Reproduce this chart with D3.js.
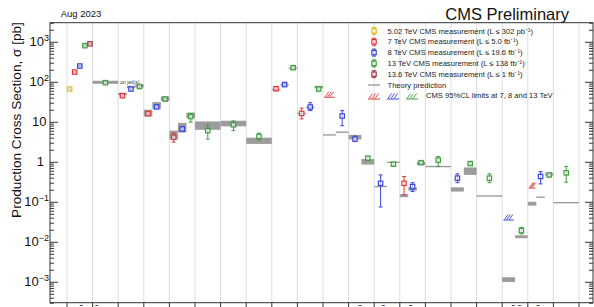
<!DOCTYPE html>
<html><head><meta charset="utf-8">
<script src="https://cdn.jsdelivr.net/npm/d3@7"></script>
<style>
body{margin:0;background:#fff;}
svg{display:block;font-family:"Liberation Sans",Arial,Helvetica,sans-serif;}
</style>
</head><body>
<svg id="c" width="594" height="307"></svg>
<script>
// ---------------- data ----------------
const categories = ["tt\u0304","tt\u0304 jets","WW","WZ","ZZ","W\u03b3\u03b3","Z\u03b3\u03b3","WV\u03b3","t-ch","tW","s-ch",
  "tt\u0304\u03b3","tt\u0304W","tt\u0304Z","tZq","t\u03b3q","tWZ","tt\u0304tt\u0304","tt\u0304H","tH"];
const energies = ["5.02","7","8","13","13.6"];
const energyColors = ["#e2bd2a","#e0393b","#3a46d8","#3f9f3f","#a8394c"];
// [category, energy, value, low, high]  (pb)
const measurements = [
  ["tt\u0304","5.02",66,62,70],["tt\u0304","7",175,168,182],["tt\u0304","8",248,240,257],["tt\u0304","13",800,775,825],["tt\u0304","13.6",888,850,925],
  ["tt\u0304 jets","13",95,88,102],
  ["WW","7",45,41,49],["WW","8",66,62,70],["WW","13",76,71,82],
  ["WZ","7",16,14.5,17.5],["WZ","8",23.5,21.5,25.5],["WZ","13",37,34,40],
  ["ZZ","7",4.1,3.1,5.2],["ZZ","8",6.6,5.7,7.6],["ZZ","13",13.5,9.8,16],
  ["W\u03b3\u03b3","13",6.0,3.7,8.4],
  ["Z\u03b3\u03b3","13",8.4,6.0,10.5],
  ["WV\u03b3","13",4.3,3.5,5.2],
  ["t-ch","7",67,60,74],["t-ch","8",85,79,91],["t-ch","13",225,208,242],
  ["tW","7",16.2,11.8,22],["tW","8",23.4,19,30],["tW","13",66,62,70],
  ["s-ch","8",14,8,19],
  ["tt\u0304\u03b3","8",3.7,3.2,4.4],["tt\u0304\u03b3","13",1.23,1.1,1.35],
  ["tt\u0304W","8",0.29,0.074,0.47],["tt\u0304W","13",0.87,0.8,0.95],
  ["tt\u0304Z","7",0.29,0.15,0.43],["tt\u0304Z","8",0.24,0.18,0.30],["tt\u0304Z","13",0.95,0.88,1.02],
  ["tZq","13",1.1,0.76,1.35],
  ["t\u03b3q","8",0.39,0.3,0.5],["t\u03b3q","13",0.9,0.85,0.95],
  ["tWZ","13",0.39,0.3,0.5],
  ["tt\u0304tt\u0304","13",0.019,0.0157,0.023],
  ["tt\u0304H","8",0.43,0.28,0.57],["tt\u0304H","13",0.47,0.42,0.52],
  ["tH","13",0.53,0.31,0.76]
];
// [category, energy, low, high]  (low === high -> thin line)
const theory = [
  ["tt\u0304","5.02",64,70],["tt\u0304","7",170,180],["tt\u0304","8",240,256],["tt\u0304","13",800,850],["tt\u0304","13.6",880,940],
  ["tt\u0304 jets","13",89,106],
  ["WW","7",46,53],["WW","8",70,78],["WW","13",72,86],
  ["WZ","7",13.5,20],["WZ","8",21,31],["WZ","13",33,43],
  ["ZZ","7",3.6,6.0],["ZZ","8",5.4,9.4],["ZZ","13",12.4,17],
  ["W\u03b3\u03b3","13",6.3,10.2],
  ["Z\u03b3\u03b3","13",7.7,10.6],
  ["WV\u03b3","13",2.8,4.0],
  ["t-ch","7",64,64],["t-ch","8",84,84],["t-ch","13",217,217],
  ["tW","7",16,16],["tW","8",23,23],["tW","13",70,78],
  ["s-ch","7",4.7,4.7],["s-ch","8",5.5,5.5],
  ["tt\u0304\u03b3","8",3.6,4.7],["tt\u0304\u03b3","13",0.85,1.17],
  ["tt\u0304W","8",0.24,0.24],["tt\u0304W","13",0.97,0.97],
  ["tt\u0304Z","7",0.13,0.155],["tt\u0304Z","8",0.19,0.23],["tt\u0304Z","13",0.83,1.0],
  ["tZq","13",0.76,0.76],
  ["t\u03b3q","8",0.18,0.23],["t\u03b3q","13",0.47,0.72],
  ["tWZ","13",0.14,0.14],
  ["tt\u0304tt\u0304","8",0.00099,0.0013],["tt\u0304tt\u0304","13",0.0123,0.0145],
  ["tt\u0304H","7",0.08,0.1],["tt\u0304H","8",0.13,0.13],["tt\u0304H","13",0.45,0.52],
  ["tH","13",0.095,0.095]
];
// [category, energy, 95% CL upper limit]
const limits = [["s-ch","7",41],["tt\u0304tt\u0304","8",0.035],["tt\u0304H","7",0.22]];
const jetNote = ["tt\u0304 jets","\u2265n jet(s)"];
const yTicks = [1e-3,1e-2,1e-1,1,10,100,1000];
const legendLabels = [
  "5.02 TeV CMS measurement (L \u2264 302 pb\u207b\u00b9)",
  "7 TeV CMS measurement (L \u2264 5.0 fb\u207b\u00b9)",
  "8 TeV CMS measurement (L \u2264 19.6 fb\u207b\u00b9)",
  "13 TeV CMS measurement (L \u2264 138 fb\u207b\u00b9)",
  "13.6 TeV CMS measurement (L \u2264 1 fb\u207b\u00b9)",
  "Theory prediction",
  "CMS 95%CL limits at 7, 8 and 13 TeV"
];

// ---------------- layout ----------------
const L = 50, R = 593, T = 22.7, B = 302.7;
const svg = d3.select("#c");
const y = d3.scaleLog().domain([3e-4, 3e3]).range([B, T]);
const x = d3.scaleBand().domain(categories).range([67, 579]);
const col = e => energyColors[energies.indexOf(e)];
const THEORY = "#9c9c9c";

// sub-slot scale per category
const sub = new Map();
categories.forEach(c => {
  const s = new Set();
  measurements.forEach(m => { if (m[0] === c) s.add(m[1]); });
  theory.forEach(m => { if (m[0] === c) s.add(m[1]); });
  limits.forEach(m => { if (m[0] === c) s.add(m[1]); });
  sub.set(c, d3.scaleBand().domain(energies.filter(e => s.has(e))).range([x(c), x(c) + x.bandwidth()]));
});

// column separators
const bounds = categories.map(c => x(c)).concat([x(categories[categories.length - 1]) + x.bandwidth()]);
svg.append("g").selectAll("line").data(bounds).join("line")
  .attr("x1", d => d).attr("x2", d => d).attr("y1", T).attr("y2", B)
  .attr("stroke", "#dedede").attr("stroke-width", 1);
svg.append("g").selectAll("line").data(bounds).join("line")
  .attr("x1", d => d).attr("x2", d => d).attr("y1", B).attr("y2", B + 6)
  .attr("stroke", "#333").attr("stroke-width", 1);

// category labels (cut off by the bottom edge like the reference)
svg.append("g").selectAll("text").data(categories).join("text")
  .attr("x", d => x(d) + x.bandwidth() / 2).attr("y", B + 12)
  .attr("text-anchor", "middle").attr("font-size", 11).attr("fill", "#111")
  .text(d => d);

// theory predictions
const tg = svg.append("g");
theory.forEach(([c, e, lo, hi]) => {
  const s = sub.get(c), x0 = s(e), w = s.bandwidth();
  if (lo === hi) {
    tg.append("line").attr("x1", x0).attr("x2", x0 + w).attr("y1", y(lo)).attr("y2", y(lo))
      .attr("stroke", THEORY).attr("stroke-width", 1.4);
  } else {
    let y1 = y(hi), y2 = y(lo);
    if (y2 - y1 < 2.4) { const m = (y1 + y2) / 2; y1 = m - 1.2; y2 = m + 1.2; }
    tg.append("rect").attr("x", x0).attr("width", w).attr("y", y1).attr("height", y2 - y1)
      .attr("fill", THEORY);
  }
});

// jet note
{
  const t = theory.find(d => d[0] === jetNote[0]);
  svg.append("text").attr("x", x(jetNote[0]) + x.bandwidth() + 1.5)
    .attr("y", y(Math.sqrt(t[2] * t[3])) + 1.8)
    .attr("font-size", 5.5).attr("fill", "#333").text(jetNote[1]);
}

// limits (hatched)
function hatch(g, x0, w, yy, color) {
  g.append("line").attr("x1", x0).attr("x2", x0 + w).attr("y1", yy).attr("y2", yy)
    .attr("stroke", color).attr("stroke-width", 1);
  for (let k = 0; k < 3; k++) {
    const xs = x0 + 1 + k * (w - 3) / 3;
    g.append("line").attr("x1", xs).attr("y1", yy - 0.5).attr("x2", xs + 3.5).attr("y2", yy - 5.5)
      .attr("stroke", color).attr("stroke-width", 0.9);
  }
}
const lg = svg.append("g");
limits.forEach(([c, e, v]) => {
  const s = sub.get(c), w = s.bandwidth() * 0.8;
  hatch(lg, s(e) + (s.bandwidth() - w) / 2, w, y(v), col(e));
});

// measurements
function marker(g, cx, cy, ylo, yhi, color) {
  g.append("line").attr("x1", cx).attr("x2", cx).attr("y1", yhi).attr("y2", ylo).attr("stroke", color).attr("stroke-width", 1);
  [ylo, yhi].forEach(v => g.append("line").attr("x1", cx - 2).attr("x2", cx + 2).attr("y1", v).attr("y2", v).attr("stroke", color).attr("stroke-width", 1));
  g.append("rect").attr("x", cx - 2.2).attr("y", cy - 2.2).attr("width", 4.4).attr("height", 4.4)
    .attr("fill", "#fff").attr("fill-opacity", 0.6).attr("stroke", color).attr("stroke-width", 1.2);
}
const mg = svg.append("g");
measurements.forEach(([c, e, v, lo, hi]) => {
  const s = sub.get(c);
  marker(mg, s(e) + s.bandwidth() / 2, y(v), y(lo), y(hi), col(e));
});

// frame
svg.append("rect").attr("x", L).attr("y", T).attr("width", R - L).attr("height", B - T)
  .attr("fill", "none").attr("stroke", "#333").attr("stroke-width", 1);

// y axes (ticks inside)
const minors = [];
for (let p = -4; p <= 3; p++) for (let m = 2; m <= 9; m++) { const v = m * Math.pow(10, p); if (v >= 3e-4 && v <= 3e3) minors.push(v); }
function axisG(gen, tx, vals, size) {
  svg.append("g").attr("transform", `translate(${tx},0)`)
    .call(gen(y).tickValues(vals).tickSize(size).tickFormat(""))
    .call(g => { g.select(".domain").remove(); g.selectAll("line").attr("stroke", "#333"); });
}
axisG(d3.axisRight, L, yTicks, 8);
axisG(d3.axisRight, L, minors, 4);
axisG(d3.axisLeft, R, yTicks, 8);
axisG(d3.axisLeft, R, minors, 4);

// y tick labels
yTicks.forEach(v => {
  const p = Math.round(Math.log10(v));
  const t = svg.append("text").attr("y", y(v) + 4.6).attr("font-size", 13).attr("fill", "#111").attr("text-anchor", "end");
  if (p === 0) { t.attr("x", 44).text("1"); }
  else if (p === 1) { t.attr("x", 46.5).text("10"); }
  else {
    t.attr("x", 49);
    t.append("tspan").text("10");
    t.append("tspan").attr("font-size", 9).attr("dy", -5.5).text((p < 0 ? "\u2212" : "") + Math.abs(p));
  }
});

// axis title
svg.append("text").attr("transform", `translate(21,120) rotate(-90)`)
  .attr("text-anchor", "middle").attr("font-size", 13.6).attr("fill", "#111")
  .text("Production Cross Section, \u03c3 [pb]");

// header texts
svg.append("text").attr("x", 60.7).attr("y", 17.3).attr("font-size", 9.5).attr("fill", "#111").text("Aug 2023");
svg.append("text").attr("x", 569).attr("y", 20).attr("text-anchor", "end").attr("font-size", 16.5).attr("fill", "#111").text("CMS Preliminary");

// legend
const leg = svg.append("g");
const rowY = i => 31 + i * 10.8;
energies.forEach((e, i) => {
  marker(leg, 374, rowY(i), rowY(i) + 3.5, rowY(i) - 3.5, energyColors[i]);
});
leg.append("line").attr("x1", 368).attr("x2", 380).attr("y1", rowY(5)).attr("y2", rowY(5)).attr("stroke", THEORY).attr("stroke-width", 1.4);
["7", "8", "13"].forEach((e, k) => hatch(leg, 368 + k * 19, 12, rowY(6) + 3.2, col(e)));
legendLabels.forEach((t, i) => {
  leg.append("text").attr("x", i === 6 ? 426 : 387.5).attr("y", rowY(i) + 2.6)
    .attr("font-size", 7.6).attr("fill", "#222").text(t);
});
</script>
</body></html>
